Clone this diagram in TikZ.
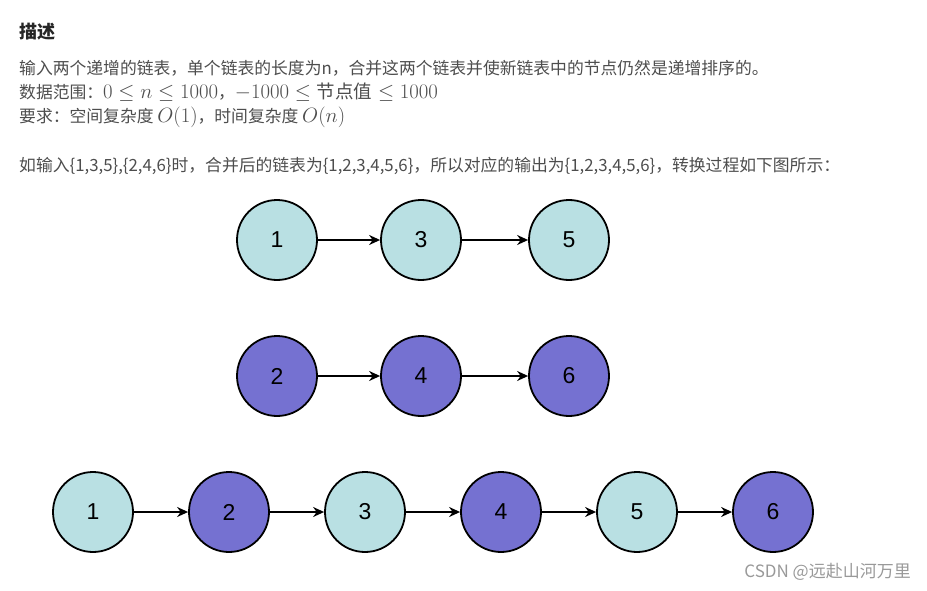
\documentclass[tikz,border=0pt]{standalone}
\usepackage{fontspec}
\setmainfont{Noto Sans CJK SC}
\newfontfamily\arialf{Liberation Sans}
\usetikzlibrary{arrows.meta}
\definecolor{lc}{HTML}{B9E0E3}
\definecolor{pc}{HTML}{7571D1}
\definecolor{tx}{HTML}{4D4D4D}
\newcommand{\mth}{\fontsize{21.5}{21}\selectfont}
\newcommand{\bdy}{\fontsize{16.8}{18}\selectfont}
\begin{document}
\begin{tikzpicture}[x=1pt,y=-1pt,
  nd/.style={circle,draw=black,line width=1.8pt,minimum size=80pt,inner sep=0pt,font=\arialf\fontsize{23}{23}\selectfont},
  lt/.style={nd,fill=lc},
  pu/.style={nd,fill=pc},
  ar/.style={-{Stealth[length=11pt,width=10pt]},line width=1.5pt},
  txt/.style={anchor=west,inner sep=0pt,text=tx,font=\bdy}]
\useasboundingbox (0,0) rectangle (927,591);
\node[anchor=west,inner sep=0pt,text=black!85,font=\bfseries\fontsize{18}{20}\selectfont] (title) at (19,32) {描述};
\node[txt] (l1) at (19,68) {输入两个递增的链表，单个链表的长度为n，合并这两个链表并使新链表中的节点仍然是递增排序的。};
\node[txt] (l2) at (19,92) {数据范围：{\mth $0\le n\le 1000$}，{\mth $-1000\le \mbox{\fontsize{18.5}{19}\selectfont 节点值}\le 1000$}};
\node[txt] (l3) at (19,117) {要求：空间复杂度 {\mth$O(1)$}，时间复杂度 {\mth$O(n)$}};
\node[txt] (l4) at (19,166) {如输入\{1,3,5\},\{2,4,6\}时，合并后的链表为\{1,2,3,4,5,6\}，所以对应的输出为\{1,2,3,4,5,6\}，转换过程如下图所示：};
\node[lt] (a1) at (277,240) {1};
\node[lt] (a3) at (421,240) {3};
\node[lt] (a5) at (569,240) {5};
\node[pu] (b2) at (277,376) {2};
\node[pu] (b4) at (421,376) {4};
\node[pu] (b6) at (569,376) {6};
\node[lt] (c1) at (93,512) {1};
\node[pu] (c2) at (229,512) {2};
\node[lt] (c3) at (365,512) {3};
\node[pu] (c4) at (501,512) {4};
\node[lt] (c5) at (637,512) {5};
\node[pu] (c6) at (773,512) {6};
\draw[ar] (a1) -- (a3); \draw[ar] (a3) -- (a5);
\draw[ar] (b2) -- (b4); \draw[ar] (b4) -- (b6);
\draw[ar] (c1) -- (c2); \draw[ar] (c2) -- (c3); \draw[ar] (c3) -- (c4);
\draw[ar] (c4) -- (c5); \draw[ar] (c5) -- (c6);
\node[anchor=east,inner sep=0pt,text=black!40,font=\fontsize{17}{18}\selectfont] (wm) at (911,572) {CSDN @远赴山河万里};
\end{tikzpicture}
\end{document}
